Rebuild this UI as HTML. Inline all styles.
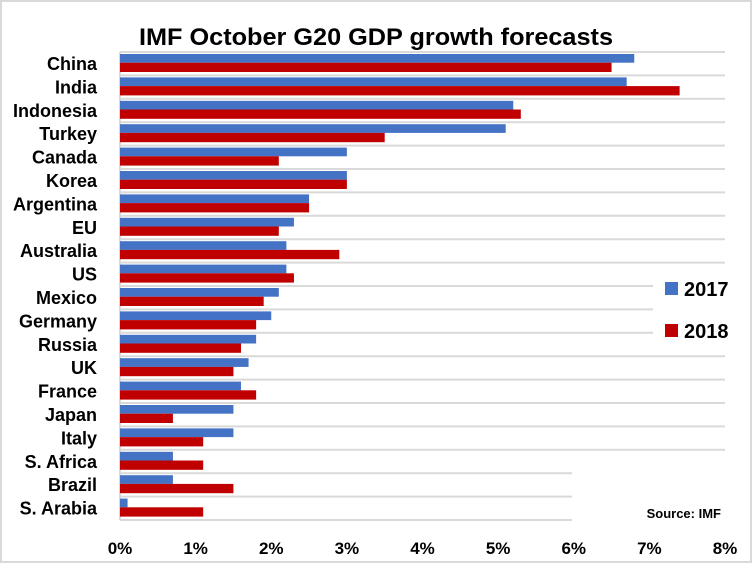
<!DOCTYPE html>
<html><head><meta charset="utf-8"><style>
body{margin:0;background:#fff}
svg{display:block;font-family:"Liberation Sans",sans-serif}
</style></head><body>
<svg id="chart" width="752" height="563" viewBox="0 0 752 563">
<rect x="1" y="1" width="750" height="561" fill="#fff" stroke="#d9d9d9" stroke-width="2"/>
<text x="376" y="45" text-anchor="middle" font-size="24" font-weight="bold" textLength="474" lengthAdjust="spacingAndGlyphs">IMF October G20 GDP growth forecasts</text>
<g id="grid"></g>
<g id="bars"></g>
<g id="labels"></g>
<g id="ticks"></g>
<rect x="665" y="282" width="13" height="13" fill="#4472c4"/>
<text x="684" y="296" font-size="20" font-weight="bold">2017</text>
<rect x="665" y="324" width="13" height="13" fill="#c00000"/>
<text x="684" y="338" font-size="20" font-weight="bold">2018</text>
<text x="721" y="518" text-anchor="end" font-size="13" font-weight="bold">Source: IMF</text>
</svg>
<script>
const categories=["China","India","Indonesia","Turkey","Canada","Korea","Argentina","EU","Australia","US","Mexico","Germany","Russia","UK","France","Japan","Italy","S. Africa","Brazil","S. Arabia"];
const values2017=[6.8,6.7,5.2,5.1,3.0,3.0,2.5,2.3,2.2,2.2,2.1,2.0,1.8,1.7,1.6,1.5,1.5,0.7,0.7,0.1];
const values2018=[6.5,7.4,5.3,3.5,2.1,3.0,2.5,2.1,2.9,2.3,1.9,1.8,1.6,1.5,1.8,0.7,1.1,1.1,1.5,1.1];
const tickLabels=["0%","1%","2%","3%","4%","5%","6%","7%","8%"];
const tickValues=[0,1,2,3,4,5,6,7,8];

const NS="http://www.w3.org/2000/svg";
const X0=120,X1=725,XMAX=8,Y0=52,BAND=23.4;
const xs=v=>X0+(X1-X0)*v/XMAX;
const ys=i=>Y0+BAND*i;
function mk(tag,attrs,parent){const e=document.createElementNS(NS,tag);for(const k in attrs)e.setAttribute(k,attrs[k]);document.getElementById(parent).appendChild(e);return e;}

// gridlines at band boundaries
for(let i=0;i<=categories.length;i++){
  let end=X1;
  if(i>=10&&i<=12)end=653;
  if(i>=18)end=572;
  const l=mk("line",{x1:X0,x2:end,y1:ys(i),y2:ys(i),stroke:"#d9d9d9","stroke-width":2},"grid");
  
  
}
const ax=mk("line",{x1:X0,x2:X0,y1:ys(0),y2:ys(categories.length),stroke:"#d9d9d9","stroke-width":2},"grid");



categories.forEach((c,i)=>{
  const t=ys(i);
  const b=mk("rect",{x:X0,y:t+2,width:xs(values2017[i])-X0,height:8.7,fill:"#4472c4"},"bars");
  
  
  const r=mk("rect",{x:X0,y:t+10.7,width:xs(values2018[i])-X0,height:9.3,fill:"#c00000"},"bars");
  
  
  const tx=mk("text",{x:97,y:t+18,"text-anchor":"end","font-size":18,"font-weight":"bold"},"labels");
  tx.textContent=c;
  
  
});

tickValues.forEach((v,i)=>{
  const t=mk("text",{x:xs(v),y:554,"text-anchor":"middle","font-size":17,"font-weight":"bold"},"ticks");
  t.textContent=tickLabels[i];
  
  
});
</script>
</body></html>
